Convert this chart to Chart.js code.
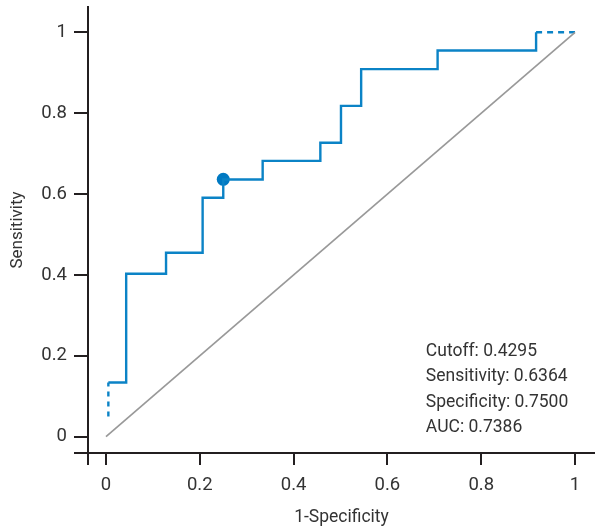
<!DOCTYPE html>
<html>
<head>
<meta charset="utf-8">
<script src="https://cdn.jsdelivr.net/npm/chart.js@4"></script>
<style>
  html, body { margin: 0; padding: 0; background: #fff; }
  #box { width: 595px; height: 526px; }
</style>
</head>
<body>
<div id="box"><canvas id="rocChart"></canvas></div>
<script>
// ROC curve corners (1-specificity, sensitivity), joined with horizontal-then-vertical steps
var fpr = [0.005, 0.043, 0.128, 0.206, 0.25, 0.334, 0.457, 0.501, 0.544, 0.707, 0.917];
var tpr = [0.134, 0.403, 0.455, 0.591, 0.636, 0.682, 0.727, 0.818, 0.909, 0.955, 1];
// dashed ends of the curve
var headFpr = [0.005, 0.005];
var headTpr = [0.05, 0.134];
var tailFpr = [0.917, 1];
var tailTpr = [1, 1];
// reference diagonal
var diagFpr = [0, 1];
var diagTpr = [0, 1];
// optimal cutoff
var cutoffFpr = [0.25];
var cutoffTpr = [0.6364];

var xTicks = [0, 0.2, 0.4, 0.6, 0.8, 1];
var yTicks = [0, 0.2, 0.4, 0.6, 0.8, 1];
var infoLines = ['Cutoff: 0.4295', 'Sensitivity: 0.6364', 'Specificity: 0.7500', 'AUC: 0.7386'];

var FONT = 'Roboto, "Liberation Sans", sans-serif';
var TEXT = '#333333';
var AXIS = '#231f20';
var BLUE = '#0b83c6';

function pts(xs, ys) {
    return xs.map(function(x, i) { return {x: x, y: ys[i]}; });
}

var infoText = {
    id: 'infoText',
    afterDraw: function(chart) {
        var c = chart.ctx;
        var x = chart.scales.x.getPixelForValue(0.682);
        var y = chart.scales.y.getPixelForValue(0.21);
        c.save();
        c.font = '17.5px ' + FONT;
        c.fillStyle = TEXT;
        c.textAlign = 'left';
        c.textBaseline = 'middle';
        for (var i = 0; i < infoLines.length; i++) {
            c.fillText(infoLines[i], x, y + i * 25.3);
        }
        c.restore();
    }
};

var ctx = document.getElementById('rocChart').getContext('2d');
var chart = new Chart(ctx, {
    type: 'scatter',
    data: {
        datasets: [{
            // diagonal
            type: 'line',
            data: pts(diagFpr, diagTpr),
            borderColor: '#999999',
            borderWidth: 1.7,
            pointRadius: 0,
            fill: false
        }, {
            type: 'line',
            data: pts(fpr, tpr),
            stepped: 'before',
            borderColor: BLUE,
            borderWidth: 2.4,
            pointRadius: 0,
            fill: false
        }, {
            type: 'line',
            data: pts(headFpr, headTpr),
            borderColor: BLUE,
            borderWidth: 2.4,
            borderDash: [5, 5],
            pointRadius: 0,
            fill: false
        }, {
            type: 'line',
            data: pts(tailFpr, tailTpr),
            borderColor: BLUE,
            borderWidth: 2.4,
            borderDash: [6, 5],
            pointRadius: 0,
            fill: false
        }, {
            data: pts(cutoffFpr, cutoffTpr),
            backgroundColor: '#0079c2',
            borderColor: '#0079c2',
            pointRadius: 6.5,
            borderWidth: 0
        }]
    },
    options: {
        responsive: true,
        maintainAspectRatio: false,
        animation: false,
        layout: { autoPadding: false, padding: { top: 7, left: 0, right: 0, bottom: 0 } },
        plugins: {
            legend: { display: false },
            tooltip: { enabled: false }
        },
        scales: {
            x: {
                type: 'linear',
                min: -0.0384,
                max: 1.0426,
                afterBuildTicks: function(s) {
                    s.ticks = [s.min].concat(xTicks).map(function(v) { return {value: v}; });
                },
                afterFit: function(s) {
                    s.height = 73;
                    s.paddingLeft = 0;
                    s.paddingRight = 0;
                },
                border: { display: true, color: AXIS, width: 2 },
                grid: { display: true, drawOnChartArea: false, drawTicks: true, tickLength: 12, color: AXIS, lineWidth: 2 },
                ticks: {
                    padding: 9,
                    color: TEXT,
                    font: { family: FONT, size: 18.5 },
                    maxRotation: 0,
                    autoSkip: false,
                    callback: function(v) { return v < 0 ? '' : String(v); }
                },
                title: {
                    display: true,
                    text: '1-Specificity',
                    color: TEXT,
                    font: { family: FONT, size: 17.5, lineHeight: 0.8 },
                    padding: { top: 0, bottom: 1 }
                }
            },
            y: {
                type: 'linear',
                min: -0.0403,
                max: 1.0626,
                afterBuildTicks: function(s) {
                    s.ticks = [s.min].concat(yTicks).map(function(v) { return {value: v}; });
                },
                afterFit: function(s) {
                    s.width = 88;
                    s.paddingTop = 0;
                    s.paddingBottom = 0;
                },
                border: { display: true, color: AXIS, width: 2 },
                grid: { display: true, drawOnChartArea: false, drawTicks: true, tickLength: 14, color: AXIS, lineWidth: 2 },
                ticks: {
                    padding: 7,
                    color: TEXT,
                    font: { family: FONT, size: 18.5 },
                    autoSkip: false,
                    callback: function(v) { return v < 0 ? '' : String(v); }
                },
                title: {
                    display: true,
                    text: 'Sensitivity',
                    color: TEXT,
                    font: { family: FONT, size: 17, lineHeight: 1.2 },
                    padding: { top: 8, bottom: 0 }
                }
            }
        }
    },
    plugins: [infoText]
});
</script>
</body>
</html>
